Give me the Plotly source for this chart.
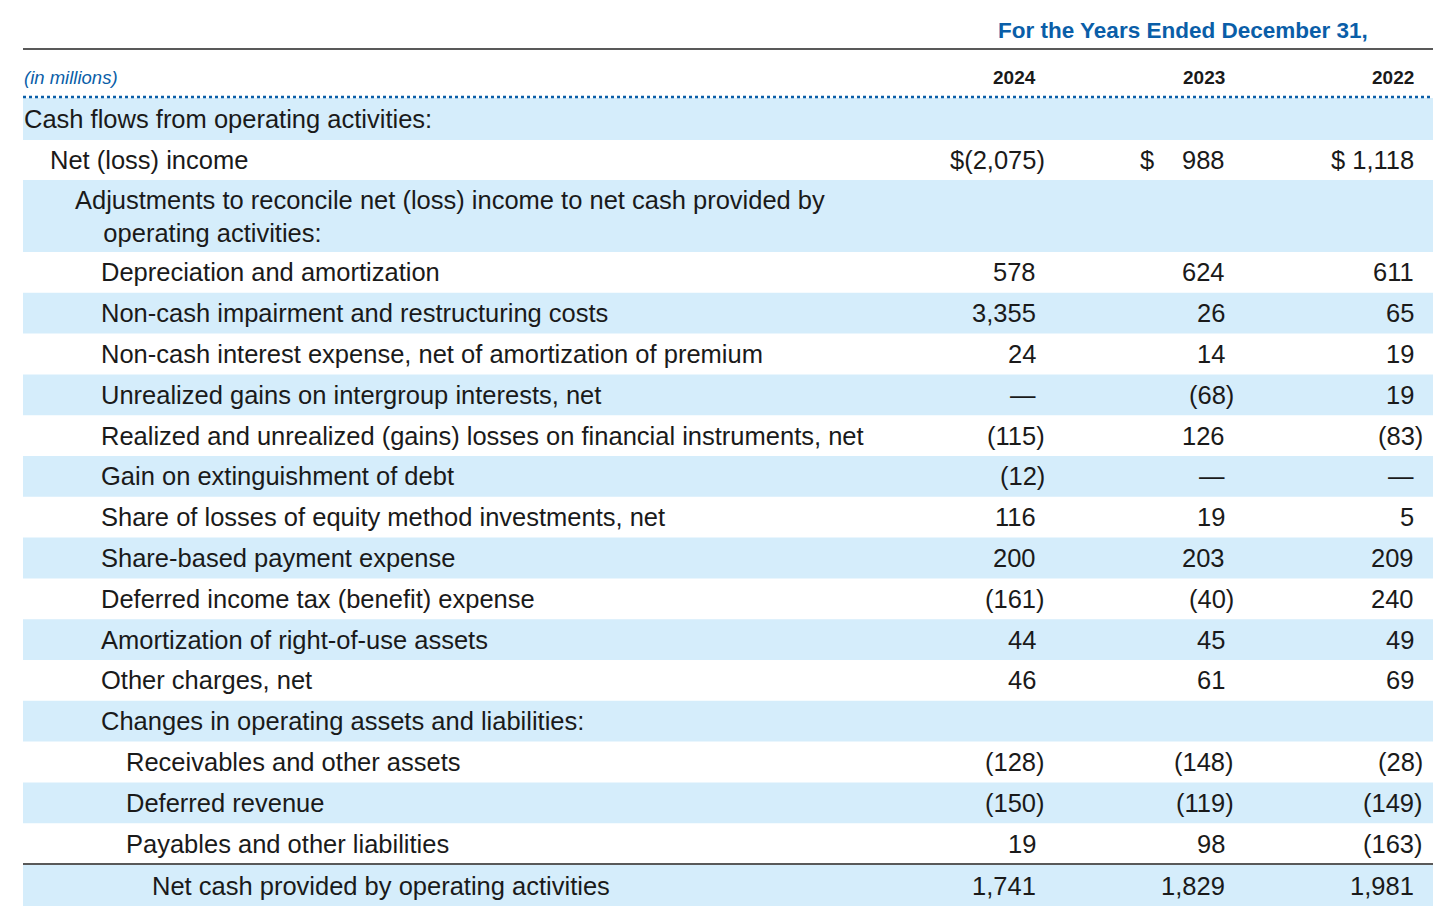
import plotly.graph_objects as go

# Table contents
labels = [
    "Cash flows from operating activities:",
    "Net (loss) income",
    "Adjustments to reconcile net (loss) income to net cash provided by<br>&nbsp;&nbsp;&nbsp;&nbsp;operating activities:",
    "Depreciation and amortization",
    "Non-cash impairment and restructuring costs",
    "Non-cash interest expense, net of amortization of premium",
    "Unrealized gains on intergroup interests, net",
    "Realized and unrealized (gains) losses on financial instruments, net",
    "Gain on extinguishment of debt",
    "Share of losses of equity method investments, net",
    "Share-based payment expense",
    "Deferred income tax (benefit) expense",
    "Amortization of right-of-use assets",
    "Other charges, net",
    "Changes in operating assets and liabilities:",
    "Receivables and other assets",
    "Deferred revenue",
    "Payables and other liabilities",
    "Net cash provided by operating activities",
]
indent = [0, 1, 2, 3, 3, 3, 3, 3, 3, 3, 3, 3, 3, 3, 3, 4, 4, 4, 5]
years = ["2024", "2023", "2022"]
v2024 = ["", "$(2,075)", "", "578", "3,355", "24", "—", "(115)", "(12)", "116", "200",
         "(161)", "44", "46", "", "(128)", "(150)", "19", "1,741"]
v2023 = ["", "988", "", "624", "26", "14", "(68)", "126", "—", "19", "203",
         "(40)", "45", "61", "", "(148)", "(119)", "98", "1,829"]
v2022 = ["", "$ 1,118", "", "611", "65", "19", "19", "(83)", "—", "5", "209",
         "240", "49", "69", "", "(28)", "(149)", "(163)", "1,981"]

BLUE_BAND = "#d5edfb"
HEAD_BLUE = "#0a5ea8"
FONT = "Liberation Sans, Arial, sans-serif"
FS = 25.5

# row geometry (pixel units on the axes)
row_h = [42, 40, 72] + [40.8] * 15 + [41]
tops = [98]
for h in row_h[:-1]:
    tops.append(tops[-1] + h)
tops[-1] += 1  # gap for the total rule

col_right = [1038, 1227, 1416]
fig = go.Figure()
shapes, ann = [], []

for i, (t, h) in enumerate(zip(tops, row_h)):
    if i % 2 == 0 or i == len(tops) - 1:
        shapes.append(dict(type="rect", x0=23, x1=1433, y0=t, y1=t + h,
                           fillcolor=BLUE_BAND, line_width=0, layer="below"))
    cy = t + h / 2
    ann.append(dict(x=22 + 25.6 * indent[i], y=cy, text=labels[i], xanchor="left",
                    yanchor="middle", showarrow=False, align="left",
                    font=dict(size=FS, color="#1a1a1a", family=FONT)))
    for vals, xr in zip([v2024, v2023, v2022], col_right):
        s = vals[i]
        if not s:
            continue
        x = xr + 9 if s.endswith(")") else xr
        if i == 1 and vals is v2023:
            ann.append(dict(x=1138, y=cy, text="$", xanchor="left", yanchor="middle",
                            showarrow=False, font=dict(size=FS, color="#1a1a1a", family=FONT)))
        ann.append(dict(x=x, y=cy, text=s, xanchor="right", yanchor="middle",
                        showarrow=False, font=dict(size=FS, color="#1a1a1a", family=FONT)))

# header
ann.append(dict(x=1183, y=30, text="<b>For the Years Ended December 31,</b>", showarrow=False,
                xanchor="center", yanchor="middle", font=dict(size=22.5, color=HEAD_BLUE, family=FONT)))
ann.append(dict(x=22, y=77, text="<i>(in millions)</i>", showarrow=False, xanchor="left",
                yanchor="middle", font=dict(size=18.5, color=HEAD_BLUE, family=FONT)))
for yr, xr in zip(years, col_right):
    ann.append(dict(x=xr, y=77, text="<b>" + yr + "</b>", showarrow=False, xanchor="right",
                    yanchor="middle", font=dict(size=19, color="#1a1a1a", family=FONT)))

shapes.append(dict(type="line", x0=23, x1=1433, y0=49, y1=49, line=dict(color="#222", width=1.3)))
shapes.append(dict(type="line", x0=23, x1=1433, y0=97, y1=97,
                   line=dict(color=HEAD_BLUE, width=2.5, dash="dot")))
shapes.append(dict(type="line", x0=23, x1=1433, y0=tops[-1] - 1, y1=tops[-1] - 1,
                   line=dict(color="#222", width=1.5)))

# page adds ~8px offset; compensate so pixels map 1:1 to reference
fig.update_layout(
    width=1448, height=902, margin=dict(l=0, r=0, t=0, b=0),
    paper_bgcolor="white", plot_bgcolor="white",
    xaxis=dict(range=[8, 1456], visible=False, fixedrange=True),
    yaxis=dict(range=[910, 8], visible=False, fixedrange=True),
    shapes=shapes, annotations=ann, showlegend=False,
)
fig.write_html("out.html")
